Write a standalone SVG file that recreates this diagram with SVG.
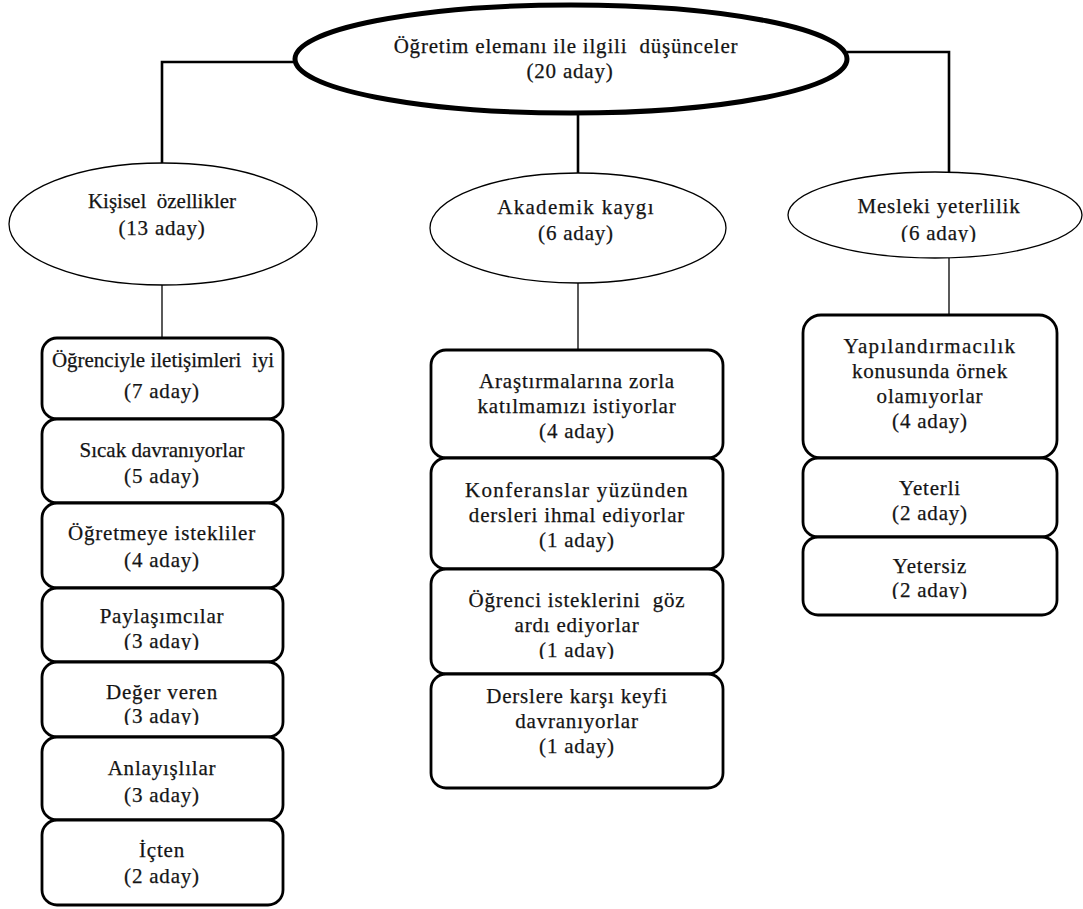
<svg xmlns="http://www.w3.org/2000/svg" width="1083" height="909" viewBox="0 0 1083 909" xml:space="preserve">
<style>
text{font-family:"Liberation Serif","Times New Roman",serif;font-size:21px;fill:#141414;stroke:#141414;stroke-width:0.25;text-anchor:middle;letter-spacing:0.8px;white-space:pre}
.tight{letter-spacing:0}
.wide{letter-spacing:1.3px}
.box{fill:#fff;stroke:#000;stroke-width:2.8}
.ell{fill:#fff;stroke:#000;stroke-width:1.3}
.main{fill:#fff;stroke:#000;stroke-width:5}
.c1{fill:none;stroke:#000;stroke-width:2.6}
.c2{fill:none;stroke:#000;stroke-width:1.3}
</style>
<defs>
<clipPath id="clipMes"><rect x="788" y="170" width="295" height="72"/></clipPath>
<clipPath id="clipPay"><rect x="42" y="590" width="240" height="60"/></clipPath>
<clipPath id="clipDeg"><rect x="42" y="664" width="240" height="61"/></clipPath>
<clipPath id="clipOgr"><rect x="432" y="571" width="290" height="88"/></clipPath>
<clipPath id="clipYts"><rect x="804" y="539" width="252" height="60"/></clipPath>
</defs>
<g id="connectors">
<polyline class="c1" points="295,62 162,62 162,163"/>
<polyline class="c1" points="847,52 949,52 949,173"/>
<line class="c1" x1="578" y1="112" x2="578" y2="173"/>
<line class="c2" x1="162" y1="285" x2="162" y2="338"/>
<line class="c2" x1="578" y1="283" x2="578" y2="350"/>
<line class="c2" x1="949" y1="258" x2="949" y2="315"/>
</g>
<g id="root">
<ellipse class="main" cx="571" cy="59" rx="276" ry="54"/>
<text x="566" y="53">Öğretim elemanı ile ilgili  düşünceler</text>
<text x="570" y="78">(20 aday)</text>
</g>
<g id="kisisel">
<ellipse class="ell" cx="163" cy="224" rx="154" ry="61"/>
<text x="162" y="208" class="tight">Kişisel  özellikler</text>
<text x="162" y="235">(13 aday)</text>
</g>
<g id="akademik">
<ellipse class="ell" cx="578" cy="228" rx="148" ry="55"/>
<text x="576" y="214" class="wide">Akademik kaygı</text>
<text x="576" y="240">(6 aday)</text>
</g>
<g id="mesleki">
<ellipse class="ell" cx="935" cy="215" rx="147" ry="43"/>
<text x="939" y="213">Mesleki yeterlilik</text>
<text x="939" y="240" clip-path="url(#clipMes)">(6 aday)</text>
</g>
<g id="k1"><rect class="box" x="42" y="338" width="241" height="81" rx="15"/>
<text x="163" y="367" class="tight">Öğrenciyle iletişimleri  iyi</text><text x="162" y="398">(7 aday)</text></g>
<g id="k2"><rect class="box" x="42" y="419" width="241" height="84" rx="15"/>
<text x="162" y="457" class="tight">Sıcak davranıyorlar</text><text x="162" y="483">(5 aday)</text></g>
<g id="k3"><rect class="box" x="42" y="503" width="241" height="85" rx="15"/>
<text x="162" y="540">Öğretmeye istekliler</text><text x="162" y="567">(4 aday)</text></g>
<g id="k4"><rect class="box" x="42" y="588" width="241" height="74" rx="15"/>
<text x="162" y="623">Paylaşımcılar</text><text x="162" y="648" clip-path="url(#clipPay)">(3 aday)</text></g>
<g id="k5"><rect class="box" x="42" y="662" width="241" height="75" rx="15"/>
<text x="162" y="699">Değer veren</text><text x="162" y="723" clip-path="url(#clipDeg)">(3 aday)</text></g>
<g id="k6"><rect class="box" x="42" y="737" width="241" height="83" rx="15"/>
<text x="162" y="775">Anlayışlılar</text><text x="162" y="802">(3 aday)</text></g>
<g id="k7"><rect class="box" x="42" y="820" width="241" height="85" rx="15"/>
<text x="162" y="857">İçten</text><text x="162" y="883">(2 aday)</text></g>
<g id="a1"><rect class="box" x="431" y="350" width="292" height="108" rx="15"/>
<text x="577" y="388">Araştırmalarına zorla</text><text x="577" y="413">katılmamızı istiyorlar</text><text x="577" y="438">(4 aday)</text></g>
<g id="a2"><rect class="box" x="431" y="458" width="292" height="111" rx="15"/>
<text x="577" y="497" class="wide">Konferanslar yüzünden</text><text x="577" y="522">dersleri ihmal ediyorlar</text><text x="577" y="547">(1 aday)</text></g>
<g id="a3"><rect class="box" x="431" y="569" width="292" height="105" rx="15"/>
<text x="577" y="607">Öğrenci isteklerini  göz</text><text x="577" y="632">ardı ediyorlar</text><text x="577" y="657" clip-path="url(#clipOgr)">(1 aday)</text></g>
<g id="a4"><rect class="box" x="431" y="674" width="292" height="114" rx="15"/>
<text x="577" y="703">Derslere karşı keyfi</text><text x="577" y="728">davranıyorlar</text><text x="577" y="753">(1 aday)</text></g>
<g id="m1"><rect class="box" x="803" y="315" width="254" height="143" rx="18"/>
<text x="930" y="353" class="wide">Yapılandırmacılık</text><text x="930" y="378">konusunda örnek</text><text x="930" y="403">olamıyorlar</text><text x="930" y="428">(4 aday)</text></g>
<g id="m2"><rect class="box" x="803" y="458" width="254" height="79" rx="15"/>
<text x="930" y="495">Yeterli</text><text x="930" y="520">(2 aday)</text></g>
<g id="m3"><rect class="box" x="803" y="537" width="254" height="78" rx="15"/>
<text x="930" y="573">Yetersiz</text><text x="930" y="597" clip-path="url(#clipYts)">(2 aday)</text></g>
</svg>
